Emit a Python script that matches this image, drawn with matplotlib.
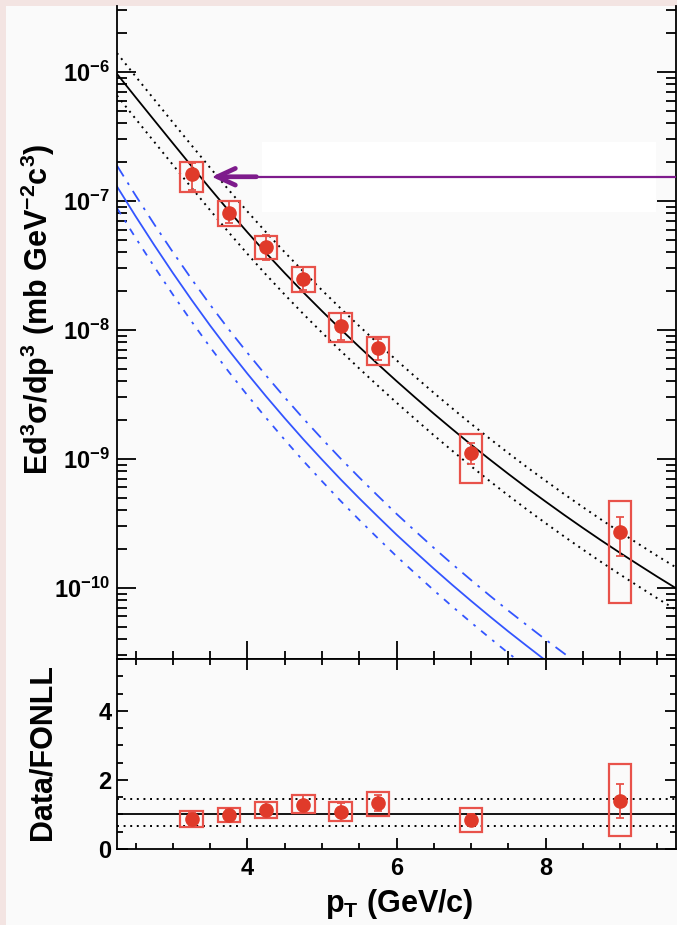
import matplotlib
matplotlib.use("Agg")
import matplotlib.pyplot as plt
from matplotlib.patches import Rectangle
from matplotlib.ticker import FixedLocator, MultipleLocator, LogLocator, NullFormatter
import numpy as np

# ---- data ----
pt = [3.25, 3.75, 4.25, 4.75, 5.25, 5.75, 7.0, 9.0]
xsec = [1.62e-7, 8.1e-8, 4.4e-8, 2.5e-8, 1.08e-8, 7.2e-9, 1.10e-9, 2.7e-10]
stat_hi = [1.96e-7, 9.9e-8, 5.4e-8, 3.1e-8, 1.35e-8, 8.5e-9, 1.33e-9, 3.56e-10]
stat_lo = [1.22e-7, 6.7e-8, 3.5e-8, 2.04e-8, 8.4e-9, 5.85e-9, 9.1e-10, 1.77e-10]
sys_hi = [2.0e-7, 9.9e-8, 5.36e-8, 3.1e-8, 1.35e-8, 8.87e-9, 1.56e-9, 4.71e-10]
sys_lo = [1.18e-7, 6.44e-8, 3.53e-8, 1.98e-8, 8.11e-9, 5.35e-9, 6.47e-10, 7.58e-11]

ratio = [0.87, 0.97, 1.12, 1.28, 1.07, 1.33, 0.85, 1.40]
ratio_stat_hi = [1.05, 1.16, 1.35, 1.55, 1.33, 1.57, 1.01, 1.88]
ratio_stat_lo = [0.67, 0.80, 0.89, 1.03, 0.82, 1.09, 0.70, 0.91]
ratio_sys_hi = [1.09, 1.18, 1.35, 1.57, 1.35, 1.64, 1.18, 2.47]
ratio_sys_lo = [0.64, 0.77, 0.90, 1.04, 0.80, 0.96, 0.48, 0.39]

# FONLL central curve (black), sampled every 0.25 GeV/c
fonll_pt = [2.25, 2.5, 2.75, 3.0, 3.25, 3.5, 3.75, 4.0, 4.25, 4.5, 4.75,
            5.0, 5.25, 5.5, 5.75, 6.0, 6.25, 6.5, 6.75, 7.0, 7.25, 7.5,
            7.75, 8.0, 8.25, 8.5, 8.75, 9.0, 9.25, 9.5, 9.75]
fonll_c = [9.66e-7, 6.37e-7, 4.22e-7, 2.80e-7, 1.862e-7, 1.245e-7, 8.38e-8,
           5.71e-8, 3.94e-8, 2.76e-8, 1.954e-8, 1.40e-8, 1.012e-8, 7.38e-9,
           5.42e-9, 4.01e-9, 2.99e-9, 2.24e-9, 1.694e-9, 1.288e-9, 9.89e-10,
           7.64e-10, 5.94e-10, 4.66e-10, 3.67e-10, 2.91e-10, 2.32e-10,
           1.862e-10, 1.503e-10, 1.216e-10, 9.91e-11]

# blue curve, sampled every 0.25 GeV/c
blue_pt = [2.25, 2.5, 2.75, 3.0, 3.25, 3.5, 3.75, 4.0, 4.25, 4.5, 4.75,
           5.0, 5.25, 5.5, 5.75, 6.0, 6.25, 6.5, 6.75, 7.0, 7.25, 7.5,
           7.75, 8.0, 8.25, 8.5]
blue_c = [1.294e-7, 7.60e-8, 4.54e-8, 2.76e-8, 1.71e-8, 1.079e-8, 6.95e-9,
          4.57e-9, 3.05e-9, 2.065e-9, 1.416e-9, 9.86e-10, 6.93e-10, 4.94e-10,
          3.56e-10, 2.58e-10, 1.90e-10, 1.406e-10, 1.05e-10, 7.91e-11,
          6.0e-11, 4.58e-11, 3.53e-11, 2.73e-11, 2.13e-11, 1.66e-11]

band_hi = 1.45   # FONLL upper / central
band_lo = 0.68   # FONLL lower / central

arrow_x = 3.52
arrow_y = 1.54e-7

# ---- style ----
RED = "#e03a2a"
BOX = "#e8524a"
BLUE = "#3355ff"
PURPLE = "#7e1b8c"
PANEL = "#fafafa"
PINK = "#f3e4e2"
BOX_HW = 0.15

plt.rcParams["font.family"] = ["Liberation Sans", "DejaVu Sans"]
plt.rcParams["font.weight"] = "bold"
plt.rcParams["mathtext.fontset"] = "custom"
plt.rcParams["mathtext.rm"] = "Liberation Sans:bold"
plt.rcParams["mathtext.bf"] = "Liberation Sans:bold"
plt.rcParams["mathtext.it"] = "Liberation Sans:bold:italic"
plt.rcParams["mathtext.sf"] = "Liberation Sans:bold"

W, H = 677, 925
fig = plt.figure(figsize=(W / 100, H / 100), dpi=100)
fig.patch.set_facecolor(PINK)
fig.patches.append(Rectangle((6 / W, 0), 1, (H - 6) / H, transform=fig.transFigure,
                             facecolor=PANEL, edgecolor="none", zorder=-10))

x0, x1 = 117, 676
ax = fig.add_axes([x0 / W, (H - 659) / H, (x1 - x0) / W, (659 - 6) / H])
axr = fig.add_axes([x0 / W, (H - 849) / H, (x1 - x0) / W, (849 - 659) / H])

for a in (ax, axr):
    a.set_facecolor(PANEL)
    for s in a.spines.values():
        s.set_linewidth(1.3)
    a.set_xlim(2.25, 9.75)
ax.spines["top"].set_visible(False)

# ---- top panel ----
ax.set_yscale("log")
ax.set_ylim(2.8e-11, 3.25e-6)

# white patch behind the arrow
ax.add_patch(Rectangle((0.2594, 0.6845), 0.7048, 0.1072, transform=ax.transAxes,
                       facecolor="white", edgecolor="none", zorder=0.5))

fpt = np.array(fonll_pt)
fc = np.array(fonll_c)
ax.plot(fpt, fc, color="black", lw=1.3, zorder=2)
ax.plot(fpt, fc * band_hi, color="black", lw=1.4, ls=(0, (1, 2.4)), zorder=2)
ax.plot(fpt, fc * band_lo, color="black", lw=1.4, ls=(0, (1, 2.4)), zorder=2)

bpt = np.array(blue_pt)
bc = np.array(blue_c)
ax.plot(bpt, bc, color=BLUE, lw=1.3, zorder=2)
ax.plot(bpt, bc * band_hi, color=BLUE, lw=1.3, ls=(0, (7, 4, 1.5, 4)), zorder=2)
ax.plot(bpt, bc * band_lo, color=BLUE, lw=1.3, ls=(0, (4, 4, 1.5, 4)), zorder=2)

for x, lo, hi in zip(pt, sys_lo, sys_hi):
    ax.add_patch(Rectangle((x - BOX_HW, lo), 2 * BOX_HW, hi - lo, fill=False,
                           edgecolor=BOX, lw=1.6, zorder=3))
ax.errorbar(pt, xsec,
            yerr=[np.array(xsec) - np.array(stat_lo), np.array(stat_hi) - np.array(xsec)],
            fmt="o", color=RED, ms=9.5, ecolor=BOX, elinewidth=1.3, capsize=3,
            capthick=1.3, zorder=4)

ax.plot([arrow_x + 0.05, 9.75], [arrow_y, arrow_y], color=PURPLE, lw=1.6, zorder=5)
ax.annotate("", xy=(arrow_x, arrow_y), xytext=(arrow_x + 0.6, arrow_y),
            arrowprops=dict(arrowstyle="->,head_length=1.3,head_width=0.6",
                            color=PURPLE, lw=3.4, shrinkA=0, shrinkB=0), zorder=5)

decades = [1e-10, 1e-9, 1e-8, 1e-7, 1e-6]
ax.yaxis.set_major_locator(FixedLocator(decades))
ax.set_yticklabels([r"$10^{%d}$" % int(np.log10(d)) for d in decades])
ax.yaxis.set_minor_locator(LogLocator(base=10, subs=np.arange(2, 10), numticks=20))
ax.yaxis.set_minor_formatter(NullFormatter())
ax.xaxis.set_major_locator(FixedLocator([4, 6, 8]))
ax.xaxis.set_minor_locator(MultipleLocator(0.5))
ax.tick_params(axis="both", which="both", direction="in", width=1.3,
               right=True, top=False, labelbottom=False, labelsize=17, pad=5)
ax.tick_params(axis="y", which="major", length=14)
ax.tick_params(axis="y", which="minor", length=7)
ax.tick_params(axis="x", which="major", length=13)
ax.tick_params(axis="x", which="minor", length=6)

# ---- ratio panel ----
axr.set_ylim(0, 5.5)
axr.axhline(1.0, color="black", lw=1.3, zorder=2)
axr.axhline(band_hi, color="black", lw=1.4, ls=(0, (1, 2.4)), zorder=2)
axr.axhline(band_lo, color="black", lw=1.4, ls=(0, (1, 2.4)), zorder=2)
for x, lo, hi in zip(pt, ratio_sys_lo, ratio_sys_hi):
    axr.add_patch(Rectangle((x - BOX_HW, lo), 2 * BOX_HW, hi - lo, fill=False,
                            edgecolor=BOX, lw=1.6, zorder=3))
axr.errorbar(pt, ratio,
             yerr=[np.array(ratio) - np.array(ratio_stat_lo),
                   np.array(ratio_stat_hi) - np.array(ratio)],
             fmt="o", color=RED, ms=9.5, ecolor=BOX, elinewidth=1.3, capsize=3,
             capthick=1.3, zorder=4)
axr.xaxis.set_major_locator(FixedLocator([4, 6, 8]))
axr.xaxis.set_minor_locator(MultipleLocator(0.5))
axr.yaxis.set_major_locator(FixedLocator([0, 2, 4]))
axr.yaxis.set_minor_locator(MultipleLocator(0.5))
axr.tick_params(axis="both", which="both", direction="in", width=1.3,
                right=True, top=True, labelsize=17)
axr.tick_params(axis="both", which="major", length=8)
axr.tick_params(axis="both", which="minor", length=4)
axr.tick_params(axis="x", pad=6)
axr.tick_params(axis="y", pad=4)

# ---- axis titles ----
fig.text(38 / W, 1 - 309 / H, "Ed$^{3}$σ/dp$^{3}$ (mb GeV$^{-2}$c$^{3}$)",
         rotation=90, ha="center", va="center", fontsize=22, fontweight="bold")
fig.text(43 / W, 1 - 752 / H, "Data/FONLL", rotation=90, ha="center",
         va="center", fontsize=22, fontweight="bold")
fig.text(399 / W, (H - 912) / H, r"p$_{\mathregular{T}}$ (GeV/c)", ha="center",
         va="baseline", fontsize=22, fontweight="bold")

fig.savefig("out.png", dpi=100, facecolor=fig.get_facecolor())
